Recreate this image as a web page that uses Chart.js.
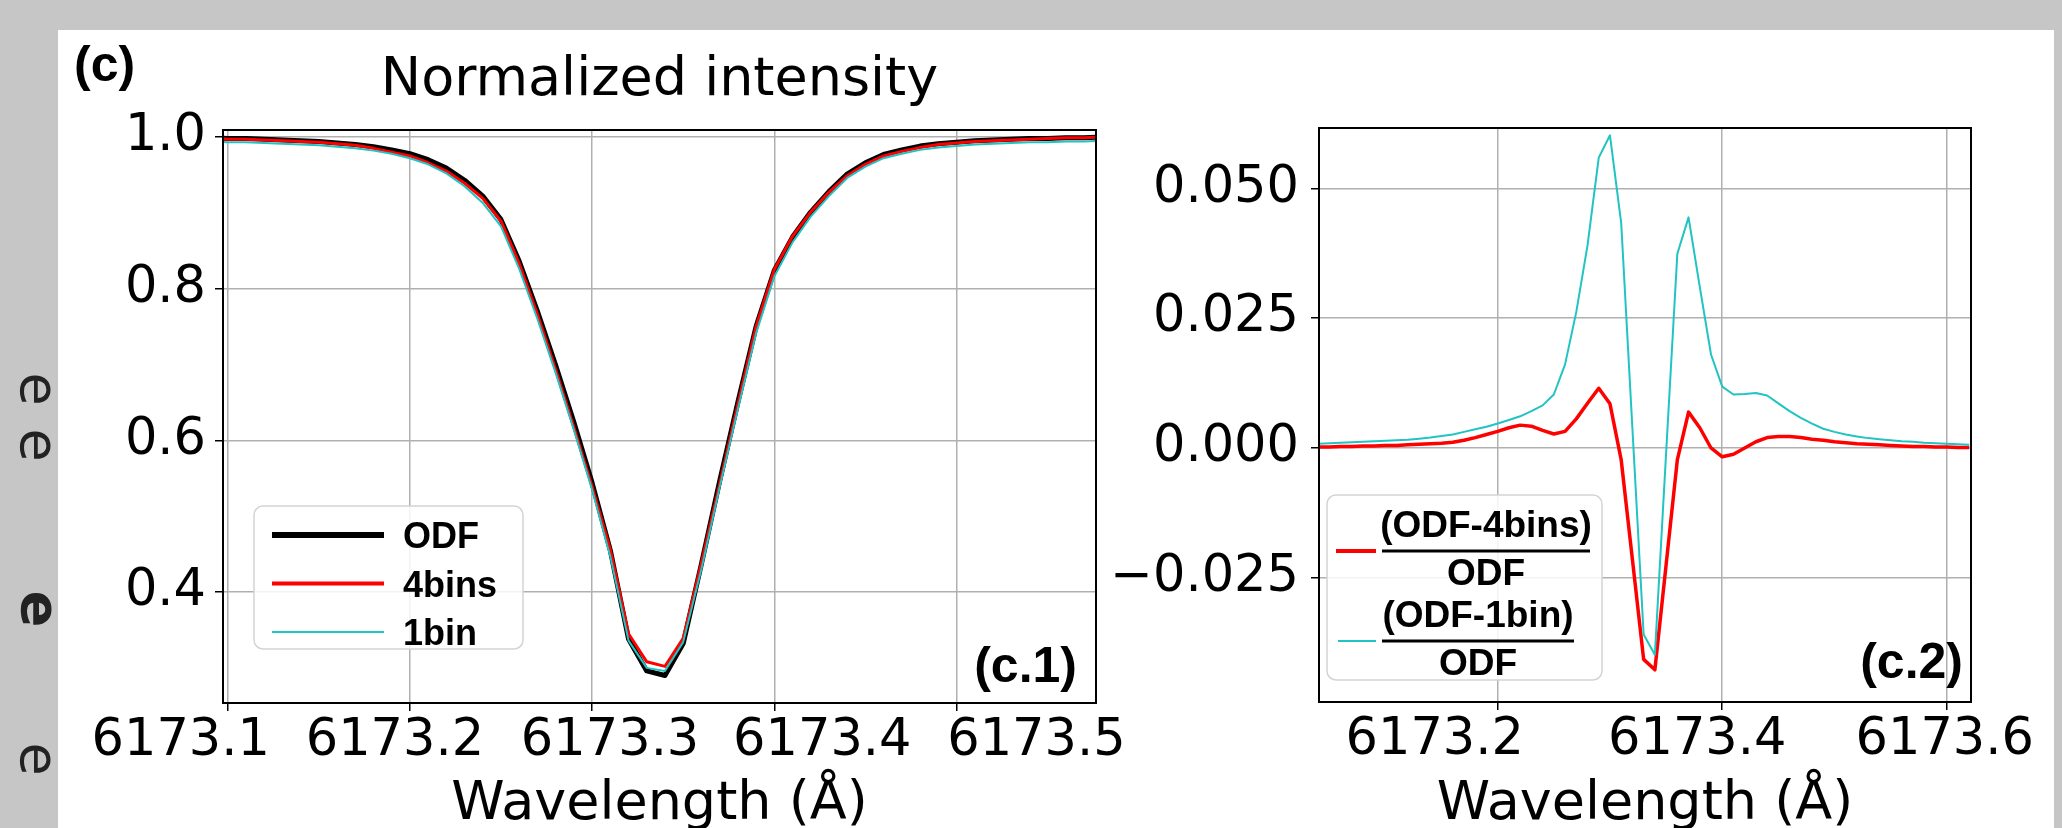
<!DOCTYPE html>
<html lang="en">
<head>
<meta charset="UTF-8">
<title>Normalized intensity</title>
<script src="https://cdn.jsdelivr.net/npm/chart.js"></script>
<style>
  body { margin: 0; width: 2062px; height: 828px; background: #c6c6c6; overflow: hidden; position: relative; }
  #sheet { position: absolute; left: 58px; top: 30px; width: 1996px; height: 798px; background: #fff; }
  canvas { position: absolute; top: 30px; }
  #leftChart { left: 58px; }
  #rightChart { left: 1080px; }
  .scrap { position: absolute; left: 22px; display: inline-block; font-family: 'DejaVu Sans'; font-size: 54px; line-height: 1; color: #222; transform: rotate(90deg); }
</style>
</head>
<body>
<div id="sheet"></div>
<!-- bits of the page the figure was cut from -->
<span class="scrap" style="top:362px">e</span>
<span class="scrap" style="top:418px">e</span>
<span class="scrap" style="top:582px;font-weight:bold">e</span>
<span class="scrap" style="top:732px">e</span>
<canvas id="leftChart" width="1160" height="798"></canvas>
<canvas id="rightChart" width="974" height="798"></canvas>
<script>
// wavelength grid (Å)
const wavelength = [
  6173.04, 6173.05, 6173.06, 6173.07, 6173.08, 6173.09, 6173.10, 6173.11, 6173.12, 6173.13,
  6173.14, 6173.15, 6173.16, 6173.17, 6173.18, 6173.19, 6173.20, 6173.21, 6173.22, 6173.23,
  6173.24, 6173.25, 6173.26, 6173.27, 6173.28, 6173.29, 6173.30, 6173.31, 6173.32, 6173.33,
  6173.34, 6173.35, 6173.36, 6173.37, 6173.38, 6173.39, 6173.40, 6173.41, 6173.42, 6173.43,
  6173.44, 6173.45, 6173.46, 6173.47, 6173.48, 6173.49, 6173.50, 6173.51, 6173.52, 6173.53,
  6173.54, 6173.55, 6173.56, 6173.57, 6173.58, 6173.59, 6173.60, 6173.61, 6173.62
];

// normalized intensity profiles
const odf = [
  1.000, 1.000, 1.000, 0.999, 0.999, 0.999, 0.998, 0.998, 0.997, 0.996,
  0.995, 0.994, 0.992, 0.990, 0.987, 0.983, 0.978, 0.970, 0.959, 0.943,
  0.922, 0.891, 0.836, 0.770, 0.699, 0.624, 0.544, 0.455, 0.338, 0.296,
  0.290, 0.332, 0.437, 0.546, 0.650, 0.750, 0.824, 0.868, 0.901, 0.928,
  0.951, 0.966, 0.977, 0.983, 0.988, 0.991, 0.993, 0.995, 0.996, 0.997,
  0.998, 0.998, 0.999, 0.999, 1.000, 1.000, 1.000, 1.000, 1.000
];
const bins4 = [
  1.000, 1.000, 1.000, 0.999, 0.999, 0.999, 0.997, 0.997, 0.996, 0.995,
  0.994, 0.993, 0.991, 0.989, 0.985, 0.980, 0.975, 0.966, 0.955, 0.939,
  0.919, 0.889, 0.833, 0.766, 0.693, 0.617, 0.539, 0.456, 0.345, 0.308,
  0.302, 0.339, 0.438, 0.542, 0.647, 0.750, 0.825, 0.869, 0.901, 0.927,
  0.949, 0.964, 0.975, 0.981, 0.986, 0.990, 0.992, 0.994, 0.995, 0.996,
  0.997, 0.998, 0.999, 0.999, 1.000, 1.000, 1.000, 1.000, 1.000
];
const bin1 = [
  0.995, 0.995, 0.995, 0.994, 0.994, 0.994, 0.993, 0.993, 0.992, 0.991,
  0.990, 0.989, 0.987, 0.985, 0.982, 0.978, 0.972, 0.964, 0.952, 0.935,
  0.913, 0.882, 0.826, 0.760, 0.689, 0.614, 0.535, 0.447, 0.336, 0.300,
  0.296, 0.334, 0.430, 0.538, 0.641, 0.741, 0.816, 0.861, 0.895, 0.922,
  0.946, 0.961, 0.972, 0.978, 0.983, 0.986, 0.988, 0.990, 0.991, 0.992,
  0.993, 0.993, 0.994, 0.994, 0.995, 0.995, 0.995, 0.995, 0.995
];

// relative differences (ODF-x)/ODF
const diff4bins = [
  0.0002, 0.0002, 0.0003, 0.0003, 0.0004, 0.0004, 0.0005, 0.0005, 0.0006, 0.0007,
  0.0008, 0.0009, 0.0011, 0.0015, 0.0020, 0.0026, 0.0032, 0.0039, 0.0044, 0.0042,
  0.0034, 0.0027, 0.0032, 0.0056, 0.0086, 0.0115, 0.0085, -0.0023, -0.0215, -0.0407,
  -0.0427, -0.0225, -0.0023, 0.0069, 0.0039, 0.0000, -0.0017, -0.0012, 0.0000, 0.0012,
  0.0020, 0.0022, 0.0022, 0.0020, 0.0017, 0.0015, 0.0012, 0.0010, 0.0008, 0.0007,
  0.0006, 0.0005, 0.0004, 0.0003, 0.0003, 0.0002, 0.0002, 0.0001, 0.0001
];
const diff1bin = [
  0.0008, 0.0009, 0.0010, 0.0011, 0.0012, 0.0013, 0.0014, 0.0015, 0.0016, 0.0018,
  0.0020, 0.0023, 0.0026, 0.0031, 0.0036, 0.0041, 0.0047, 0.0054, 0.0061, 0.0071,
  0.0082, 0.0103, 0.0161, 0.0262, 0.0390, 0.0559, 0.0602, 0.0433, 0.0037, -0.0359,
  -0.0398, -0.0010, 0.0374, 0.0444, 0.0310, 0.0180, 0.0118, 0.0103, 0.0104, 0.0106,
  0.0101, 0.0086, 0.0071, 0.0058, 0.0047, 0.0037, 0.0031, 0.0026, 0.0022, 0.0019,
  0.0017, 0.0015, 0.0013, 0.0012, 0.0010, 0.0009, 0.0008, 0.0007, 0.0006
];

// axes
const leftXRange = [6173.0974, 6173.5766];
const leftYRange = [0.2537, 1.0092];
const leftXTicks = [6173.1, 6173.2, 6173.3, 6173.4, 6173.5];
const leftXLabels = ['6173.1', '6173.2', '6173.3', '6173.4', '6173.5'];
const leftYTicks = [0.4, 0.6, 0.8, 1.0];
const leftYLabels = ['0.4', '0.6', '0.8', '1.0'];

const rightXRange = [6173.0408, 6173.6216];
const rightYRange = [-0.0489, 0.0616];
const rightXTicks = [6173.2, 6173.4, 6173.6];
const rightXLabels = ['6173.2', '6173.4', '6173.6'];
const rightYTicks = [-0.025, 0, 0.025, 0.05];
const rightYLabels = ['\u22120.025', '0.000', '0.025', '0.050'];

// the x tick labels in the source sit a little off their ticks (px)
const leftLabelShift = [-47, -15, 18, 48, 80];
const rightLabelShift = [-63, -25, -2];

const tickFont = { family: 'DejaVu Sans', size: 51 };
const labelFamily = 'Liberation Sans';

function points(ys) {
  return wavelength.map((x, i) => ({ x: x, y: ys[i] }));
}

function makeAxis(range, ticks, labels, size, pad, title) {
  return {
    type: 'linear',
    min: range[0],
    max: range[1],
    afterBuildTicks: s => { s.ticks = ticks.map(v => ({ value: v })); },
    afterFit: s => { if (s.isHorizontal()) s.height = size; else s.width = size; },
    border: { display: false },
    grid: { color: '#b0b0b0', lineWidth: 1.5, tickColor: '#000', tickWidth: 1.5, tickLength: 8 },
    ticks: {
      display: !title,
      callback: v => labels[ticks.indexOf(v)],
      font: tickFont, color: '#000', padding: pad,
      maxRotation: 0, autoSkip: false
    },
    title: title ? {
      display: true, text: title, color: '#000',
      font: { family: 'DejaVu Sans', size: 54, lineHeight: 1 },
      padding: { top: 0, bottom: -4 }
    } : { display: false }
  };
}

function line(data, color, width, order) {
  return {
    data: data, borderColor: color, borderWidth: width, order: order,
    pointRadius: 0, tension: 0, fill: false, clip: 0,
    borderJoinStyle: 'round'
  };
}

// black frame round the axes
const frame = {
  id: 'frame',
  afterDatasetsDraw(chart) {
    const a = chart.chartArea, ctx = chart.ctx;
    ctx.save();
    ctx.strokeStyle = '#000';
    ctx.lineWidth = 2;
    ctx.strokeRect(a.left, a.top, a.right - a.left, a.bottom - a.top);
    ctx.restore();
  }
};

// x tick labels, drawn from the scale's own tick positions
function xLabels(labels, shift) {
  return {
    id: 'xLabels',
    afterDraw(chart) {
      const s = chart.scales.x, ctx = chart.ctx;
      ctx.save();
      ctx.fillStyle = '#000';
      ctx.font = tickFont.size + 'px ' + tickFont.family;
      ctx.textAlign = 'center';
      ctx.textBaseline = 'alphabetic';
      s.ticks.forEach((t, i) => {
        ctx.fillText(labels[i], s.getPixelForValue(t.value) + shift[i], chart.chartArea.bottom + 52);
      });
      ctx.restore();
    }
  };
}

function legendBox(ctx, x, y, w, h) {
  ctx.beginPath();
  ctx.roundRect(x, y, w, h, 9);
  ctx.fillStyle = 'rgba(255,255,255,0.85)';
  ctx.fill();
  ctx.strokeStyle = '#d4d4d4';
  ctx.lineWidth = 1.5;
  ctx.stroke();
}

function sample(ctx, x1, x2, y, color, width) {
  ctx.beginPath();
  ctx.moveTo(x1, y);
  ctx.lineTo(x2, y);
  ctx.strokeStyle = color;
  ctx.lineWidth = width;
  ctx.stroke();
}

const leftDecor = {
  id: 'leftDecor',
  afterDraw(chart) {
    const a = chart.chartArea, ctx = chart.ctx;
    ctx.save();
    ctx.fillStyle = '#000';
    ctx.font = 'bold 50px ' + labelFamily;
    ctx.textAlign = 'left';
    ctx.fillText('(c)', 16, 51);
    ctx.textAlign = 'right';
    ctx.fillText('(c.1)', a.right - 19, a.bottom - 21);

    const lx = a.left + 31, ly = a.top + 376;
    legendBox(ctx, lx, ly, 269, 143);
    const names = ['ODF', '4bins', '1bin'];
    const colors = ['#000', '#ff0000', '#22c3c3'];
    const widths = [6, 4, 2];
    ctx.font = 'bold 36px ' + labelFamily;
    ctx.textAlign = 'left';
    names.forEach((n, i) => {
      const y = ly + 29 + i * 48.5;
      sample(ctx, lx + 18, lx + 130, y, colors[i], widths[i]);
      ctx.fillStyle = '#000';
      ctx.fillText(n, lx + 149, y + 13);
    });
    ctx.restore();
  }
};

const rightDecor = {
  id: 'rightDecor',
  afterDraw(chart) {
    const a = chart.chartArea, ctx = chart.ctx;
    ctx.save();
    ctx.fillStyle = '#000';
    ctx.font = 'bold 50px ' + labelFamily;
    ctx.textAlign = 'right';
    ctx.fillText('(c.2)', a.right - 8, a.bottom - 24);

    const lx = a.left + 8, ly = a.top + 367;
    legendBox(ctx, lx, ly, 275, 185);
    const entries = [
      { num: '(ODF-4bins)', color: '#ff0000', width: 4, y: ly + 56, barW: 208, sx: lx + 9 },
      { num: '(ODF-1bin)', color: '#22c3c3', width: 2, y: ly + 146, barW: 192, sx: lx + 11 }
    ];
    ctx.font = 'bold 37px ' + labelFamily;
    ctx.textAlign = 'center';
    entries.forEach(e => {
      sample(ctx, e.sx, lx + 49, e.y, e.color, e.width);
      const bx = lx + 55, cx = bx + e.barW / 2;
      ctx.fillStyle = '#000';
      ctx.fillRect(bx, e.y - 1.5, e.barW, 3);
      ctx.fillText(e.num, cx, e.y - 14);
      ctx.fillText('ODF', cx, e.y + 34);
    });
    ctx.restore();
  }
};

new Chart(document.getElementById('leftChart'), {
  type: 'line',
  data: {
    datasets: [
      line(points(odf), '#000', 5, 3),
      line(points(bins4), '#ff0000', 3, 2),
      line(points(bin1), '#22c3c3', 2, 1)
    ]
  },
  options: {
    responsive: false,
    animation: false,
    events: [],
    layout: { padding: { left: 0, top: 0, right: 122, bottom: 0 } },
    plugins: {
      legend: { display: false },
      tooltip: { enabled: false },
      title: {
        display: true, text: 'Normalized intensity', color: '#000', fullSize: false,
        font: { family: 'DejaVu Sans', size: 54, weight: 'normal', lineHeight: 1 },
        padding: { top: 24, bottom: 22 }
      }
    },
    scales: {
      x: makeAxis(leftXRange, leftXTicks, leftXLabels, 125, 6, 'Wavelength (\u00c5)'),
      y: makeAxis(leftYRange, leftYTicks, leftYLabels, 165, 9, null)
    }
  },
  plugins: [frame, leftDecor, xLabels(leftXLabels, leftLabelShift)]
});

new Chart(document.getElementById('rightChart'), {
  type: 'line',
  data: {
    datasets: [
      line(points(diff4bins), '#ff0000', 3.5, 2),
      line(points(diff1bin), '#22c3c3', 2, 1)
    ]
  },
  options: {
    responsive: false,
    animation: false,
    events: [],
    layout: { padding: { left: 0, top: 98, right: 83, bottom: 0 } },
    plugins: {
      legend: { display: false },
      tooltip: { enabled: false }
    },
    scales: {
      x: makeAxis(rightXRange, rightXTicks, rightXLabels, 126, 6, 'Wavelength (\u00c5)'),
      y: makeAxis(rightYRange, rightYTicks, rightYLabels, 239, 12, null)
    }
  },
  plugins: [frame, rightDecor, xLabels(rightXLabels, rightLabelShift)]
});
</script>
</body>
</html>
